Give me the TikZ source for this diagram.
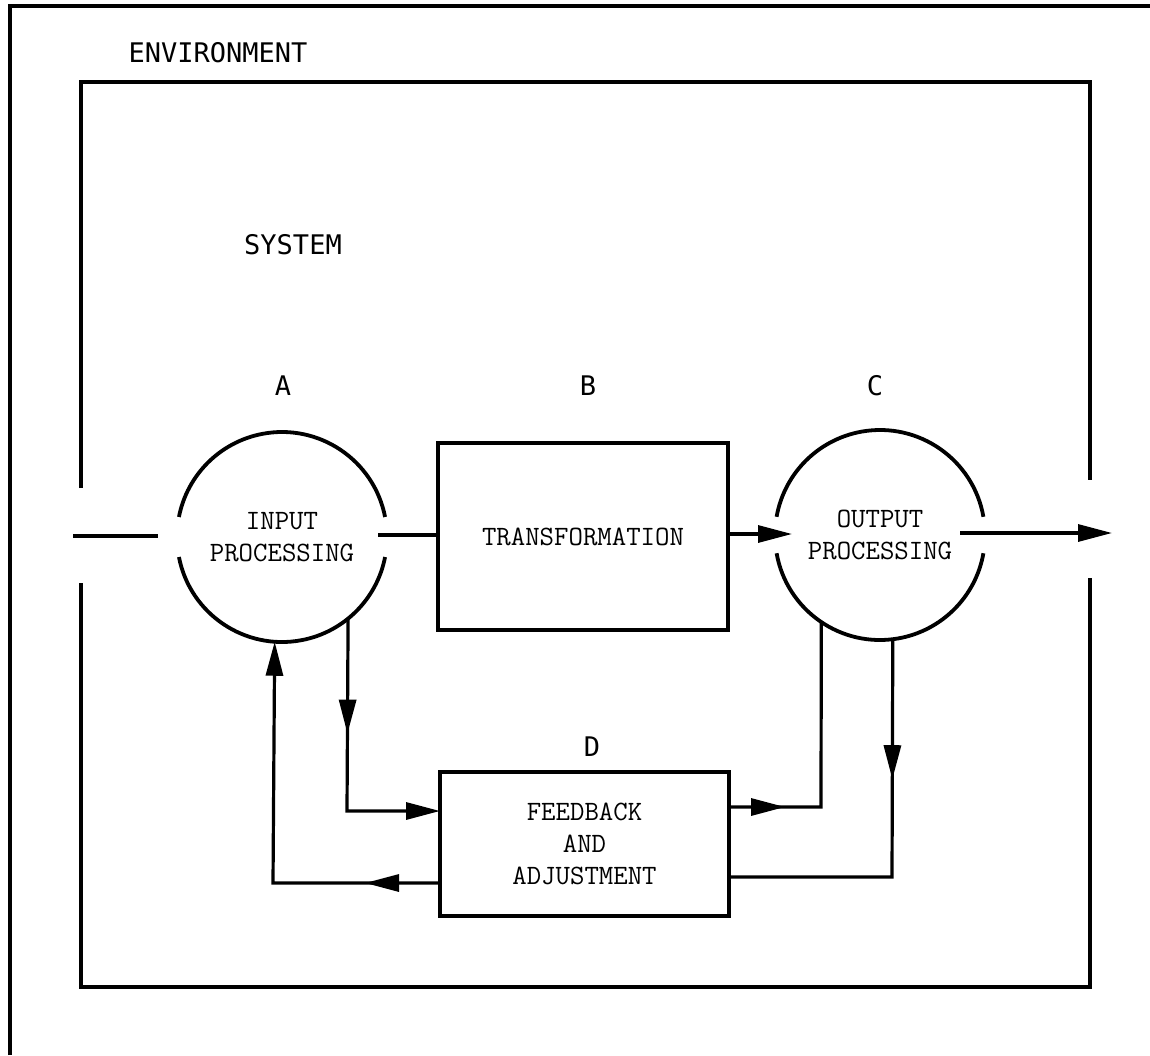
\documentclass[tikz,border=0pt]{standalone}
\usepackage{fontspec}
\newfontfamily\labelfont{DejaVu Sans Mono}
\newcommand{\myboxfont}{\ttfamily\addfontfeatures{FakeStretch=1.07,FakeBold=3}\fontsize{14}{16}\selectfont}
\usetikzlibrary{arrows.meta,calc,decorations.markings}
\begin{document}
\begin{tikzpicture}[x=0.5pt,y={(0pt,-0.5pt)},
  frameline/.style={line width=2.3pt},
  boxnode/.style={draw,line width=1.9pt,rectangle,inner sep=0pt,outer sep=0pt,align=center,
     font=\myboxfont},
  circnode/.style={circle,minimum size=105pt,inner sep=0pt,outer sep=0pt,align=center,
     font=\myboxfont},
  arcline/.style={line width=1.9pt},
  lbl/.style={font=\labelfont\fontsize{13.5}{16}\selectfont,inner sep=0pt},
  conn/.style={line width=1.6pt},
  tipA/.tip={Triangle[length=17pt,width=8.5pt]},
  midarrow/.style={postaction={decorate},decoration={markings,mark=at position #1 with {\arrow{tipA}}}}
]
\useasboundingbox (0,0) rectangle (1150,1055);
\fill[white] (0,0) rectangle (1150,1055);

% outer frame (environment)
\draw[frameline] (10,1055) -- (10,6) -- (1150,6);
% system frame with openings
\draw[frameline] (81,488) -- (81,82) -- (1090,82) -- (1090,480);
\draw[frameline] (81,583) -- (81,987) -- (1090,987) -- (1090,578);

% labels
\node[lbl] (env) at (218,53) {ENVIRONMENT};
\node[lbl] (sys) at (293,245) {SYSTEM};
\node[lbl] (la) at (283,386) {A};
\node[lbl] (lb) at (588,386) {B};
\node[lbl] (lc) at (875,386) {C};
\node[lbl] (ld) at (592,747) {D};

% main elements
\node[circnode] (A) at (282,537) {INPUT\\PROCESSING};
\node[boxnode,minimum width=145pt,minimum height=93.5pt] (B) at (583,536.5) {TRANSFORMATION};
\node[circnode] (C) at (880,535) {OUTPUT\\PROCESSING};
\node[boxnode,minimum width=144.5pt,minimum height=72pt] (D) at (584.5,844) {FEEDBACK\\AND\\ADJUSTMENT};

% circle outlines with gaps
\draw[arcline] (A.11) arc[start angle=11,end angle=169,radius=52.5pt];
\draw[arcline] (A.191) arc[start angle=191,end angle=349,radius=52.5pt];
\draw[arcline] (C.10) arc[start angle=10,end angle=170,radius=52.5pt];
\draw[arcline] (C.190) arc[start angle=190,end angle=350,radius=52.5pt];

% coordinates
\coordinate (in) at (73,536);
\coordinate (out) at (1112,533);
\coordinate (c3) at (347,811);
\coordinate (c4) at (273,883);
\coordinate (c5) at (821,807);
\coordinate (c6) at (892,877);

% main flow
\draw[conn] (in) -- ($(A.west)+(-19,-1)$);
\draw[conn] ($(A.east)+(-9,-2)$) -- (B.west |- 0,535);
\draw[conn,-{tipA}] (B.east |- 0,534) -- ($(C.west)+(17,-1)$);
\draw[conn,-{tipA}] ($(C.east)+(-25,-2)$) -- (out);

% feedback loops
\draw[conn,midarrow=57.5pt,-{tipA}] (A.-51.8) -- (c3) -- (D.west |- c3);
\draw[conn,midarrow=37.5pt,-{tipA}] (D.west |- c4) -- (c4) -- (A.-94.9);
\draw[conn,midarrow=28pt] (D.east |- c5) -- (c5) -- (C.-124.1);
\draw[conn,midarrow=70pt] (C.-83.4) -- (c6) -- (D.east |- c6);
\end{tikzpicture}
\end{document}
